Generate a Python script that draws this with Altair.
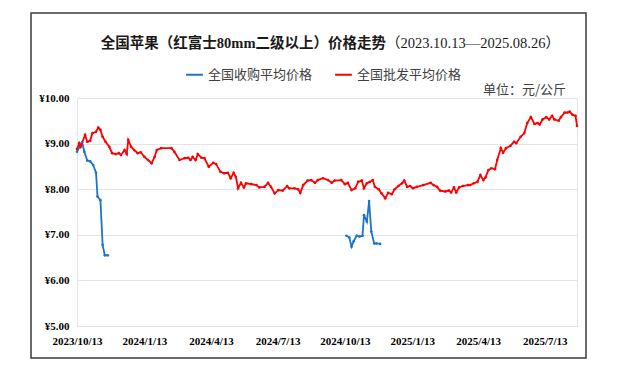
import altair as alt
import pandas as pd

START = "2023-10-13"
TITLE_MAIN = "全国苹果（红富士80mm二级以上）价格走势"
TITLE_RANGE = "（2023.10.13—2025.08.26）"
UNIT = "单位：元/公斤"
SERIES = ["全国收购平均价格", "全国批发平均价格"]
COLORS = ["#1b75c7", "#ff0000"]
TICK_DATES = [(2023, 10), (2024, 1), (2024, 4), (2024, 7), (2024, 10), (2025, 1), (2025, 4), (2025, 7)]
Y_TICKS = [5, 6, 7, 8, 9, 10]

# wholesale (red): day offset from START, price
red_days = [0, 3, 5, 11, 14, 18, 21, 26, 29, 32, 35, 39, 44, 48, 53, 57, 60, 65, 68, 70,
            74, 78, 83, 87, 92, 97, 102, 106, 109, 115, 129, 133, 140, 147, 152, 155, 158, 162, 165, 170,
            174, 180, 186, 190, 196, 201, 206, 210, 214, 217, 220, 224, 228, 231, 238, 245, 249, 256, 261, 265,
            270, 275, 281, 287, 290, 297, 302, 305, 309, 315, 320, 325, 329, 336, 343, 348, 352, 361, 366, 370,
            375, 380, 384, 389, 392, 396, 400, 404, 407, 412, 416, 421, 425, 430, 434, 439, 444, 447, 451, 455,
            459, 464, 473, 483, 487, 492, 496, 503, 508, 511, 515, 518, 522, 527, 534, 537, 542, 547, 551, 555,
            558, 562, 566, 571, 574, 579, 582, 586, 592, 597, 600, 606, 611, 615, 620, 625, 629, 632, 636, 641,
            645, 649, 652, 658, 661, 666, 670, 673, 677, 681, 683]
red_vals = [8.88, 9.01, 8.93, 9.19, 9.04, 9.06, 9.23, 9.26, 9.35, 9.30, 9.15, 9.04, 8.93, 8.79, 8.77, 8.79, 8.75, 8.86, 8.77, 9.08,
            8.93, 8.86, 8.79, 8.81, 8.71, 8.64, 8.57, 8.71, 8.86, 8.90, 8.90, 8.82, 8.64, 8.68, 8.69, 8.64, 8.71, 8.64, 8.77, 8.69,
            8.68, 8.49, 8.58, 8.55, 8.38, 8.35, 8.36, 8.24, 8.36, 8.27, 8.02, 8.14, 8.04, 8.13, 8.11, 8.09, 8.04, 8.05, 8.14, 8.05,
            7.91, 7.98, 7.97, 8.07, 8.02, 8.02, 8.00, 7.92, 8.09, 8.19, 8.20, 8.14, 8.20, 8.24, 8.20, 8.14, 8.19, 8.20, 8.11, 8.14,
            7.98, 8.02, 8.16, 8.19, 8.02, 8.13, 8.16, 8.20, 8.05, 8.00, 7.91, 7.80, 7.92, 7.89, 8.00, 8.07, 8.13, 8.19, 8.05, 8.07,
            8.02, 8.05, 8.09, 8.14, 8.09, 8.05, 7.97, 7.95, 7.97, 7.93, 8.04, 7.93, 8.04, 8.07, 8.09, 8.09, 8.13, 8.16, 8.31, 8.20,
            8.26, 8.42, 8.46, 8.44, 8.64, 8.90, 8.80, 8.90, 8.95, 9.04, 9.01, 9.15, 9.23, 9.45, 9.58, 9.43, 9.45, 9.42, 9.53, 9.58,
            9.53, 9.61, 9.53, 9.50, 9.58, 9.68, 9.68, 9.70, 9.63, 9.61, 9.39]

# purchase (blue), two seasonal segments
blue1_days = [0, 3, 7, 10, 14, 18, 22, 26, 28, 32, 35, 38, 42]
blue1_vals = [8.82, 8.92, 9.03, 8.82, 8.63, 8.61, 8.53, 8.36, 7.84, 7.76, 6.78, 6.55, 6.55]
blue2_days = [368, 372, 375, 378, 382, 386, 390, 392, 396, 399, 402, 406, 409, 414]
blue2_vals = [6.98, 6.94, 6.74, 6.86, 6.98, 6.96, 6.98, 7.43, 7.29, 7.74, 7.07, 6.81, 6.81, 6.80]


def mk(days, vals, series, seg):
    d = pd.Timestamp(START) + pd.to_timedelta(days, unit="D")
    return pd.DataFrame({"date": d.strftime("%Y-%m-%d"), "price": vals,
                         "series": series, "seg": seg})


df = pd.concat([
    mk(blue1_days, blue1_vals, SERIES[0], "b1"),
    mk(blue2_days, blue2_vals, SERIES[0], "b2"),
    mk(red_days, red_vals, SERIES[1], "r"),
], ignore_index=True)

GRID = "#e2e6ec"
LATIN_BOLD = "Liberation Serif"
CJK = "Noto Sans CJK SC"

x_enc = alt.X(
    "date:T",
    scale=alt.Scale(type="utc", domain=[alt.DateTime(year=2023, month=10, date=13, utc=True),
                                        alt.DateTime(year=2025, month=8, date=26, utc=True)]),
    axis=alt.Axis(values=[alt.DateTime(year=y, month=m, date=13, utc=True) for y, m in TICK_DATES],
                  format="%Y/%-m/%-d", labelFlush=False, grid=False, ticks=False,
                  domainColor=GRID, labelFont=LATIN_BOLD, labelFontWeight="bold",
                  labelFontSize=11, labelColor="#000000", labelPadding=9, title=None,
                  labelOverlap=False),
)
y_enc = alt.Y(
    "price:Q",
    scale=alt.Scale(domain=[5, 10], nice=False, zero=False),
    axis=alt.Axis(values=Y_TICKS, labelExpr="'¥' + format(datum.value, '.2f')",
                  grid=True, gridColor=GRID, domainColor=GRID, ticks=False,
                  labelFont=LATIN_BOLD, labelFontWeight="bold", labelFontSize=11,
                  labelColor="#000000", labelPadding=8, title=None),
)

lines = alt.Chart(df).mark_line(
    strokeWidth=1.8, point=alt.OverlayMarkDef(filled=True, size=7)
).encode(
    x=x_enc,
    y=y_enc,
    color=alt.Color("series:N", scale=alt.Scale(domain=SERIES, range=COLORS),
                    legend=alt.Legend(orient="none", legendX=108, legendY=-33,
                                      direction="horizontal", title=None,
                                      symbolType="stroke", symbolStrokeWidth=2,
                                      symbolSize=280, labelFont=CJK, labelFontSize=13,
                                      labelColor="#404040", columnPadding=18,
                                      labelOffset=4)),
    detail="seg:N",
)

title_main = alt.Chart(pd.DataFrame({"t": [TITLE_MAIN]})).mark_text(
    align="right", baseline="middle", font=f"{LATIN_BOLD}, {CJK}", fontSize=14.5,
    fontWeight="bold", color="#1a1a1a"
).encode(x=alt.value(309), y=alt.value(-54), text="t:N")

title_range = alt.Chart(pd.DataFrame({"t": [TITLE_RANGE]})).mark_text(
    align="left", baseline="middle", font=f"{LATIN_BOLD}, {CJK}", fontSize=14.5,
    color="#1a1a1a"
).encode(x=alt.value(309), y=alt.value(-54), text="t:N")

unit = alt.Chart(pd.DataFrame({"t": [UNIT]})).mark_text(
    align="right", baseline="middle", font=CJK, fontSize=13, color="#404040"
).encode(x=alt.value(489), y=alt.value(-8), text="t:N")

frame = alt.Chart(pd.DataFrame({"a": [0]})).mark_rect(
    filled=False, stroke="#3a3a3a", strokeWidth=1.5
).encode(x=alt.value(-46), x2=alt.value(509), y=alt.value(-85), y2=alt.value(260))

chart = alt.layer(frame, lines, title_main, title_range, unit).properties(
    width=500, height=228,
    autosize=alt.AutoSizeParams(type="none"),
    padding={"left": 69, "top": 90, "right": 39, "bottom": 47},
    background="white",
).configure_view(stroke=GRID)

chart.save("out.html", embed_options={"renderer": "svg", "actions": False})
